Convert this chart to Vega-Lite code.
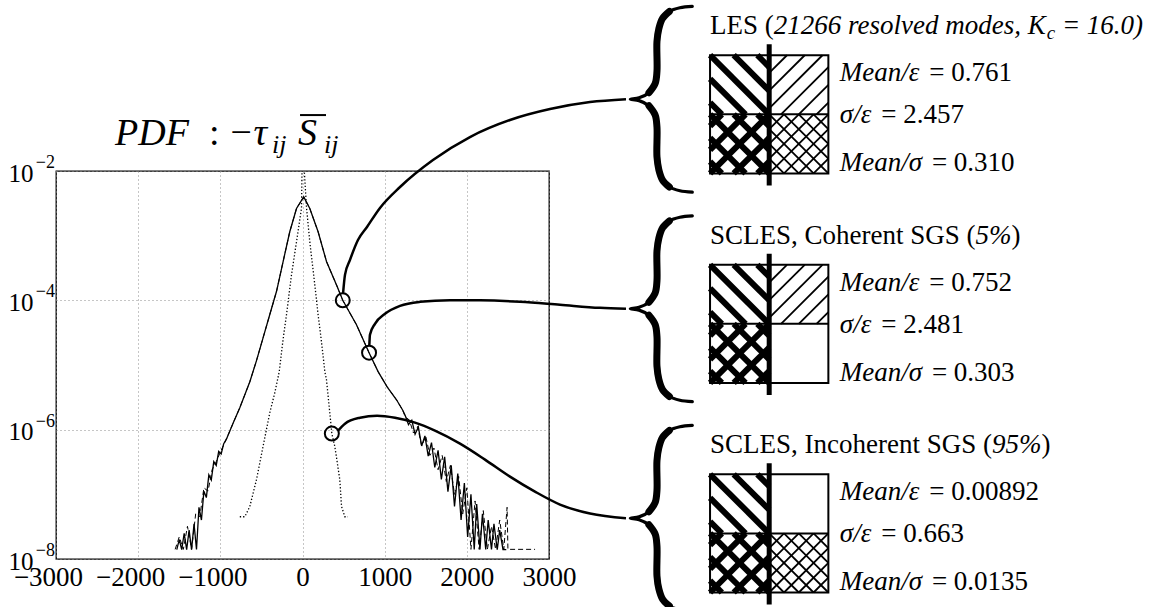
{
"$schema": "https://vega.github.io/schema/vega-lite/v6.json",
"width": 493,
"height": 388,
"autosize": {"type": "none"},
"padding": {"left": 56, "top": 171, "right": 613, "bottom": 48},
"background": "white",
"config": {"view": {"stroke": "black", "strokeWidth": 1.3}},
"resolve": {"scale": {"y": "independent"}, "axis": {"x": "independent"}},
"datasets": {
"pdf": [
{"series":"LES","x":-1530,"pdf":1.4e-8},{"series":"LES","x":-1500,"pdf":2.0e-8},{"series":"LES","x":-1470,"pdf":1.4e-8},{"series":"LES","x":-1440,"pdf":2.5e-8},{"series":"LES","x":-1410,"pdf":1.4e-8},{"series":"LES","x":-1380,"pdf":2.8e-8},{"series":"LES","x":-1350,"pdf":1.4e-8},{"series":"LES","x":-1320,"pdf":3.5e-8},{"series":"LES","x":-1290,"pdf":1.4e-8},{"series":"LES","x":-1260,"pdf":6.3e-8},{"series":"LES","x":-1230,"pdf":4.0e-8},{"series":"LES","x":-1200,"pdf":1.12e-7},{"series":"LES","x":-1170,"pdf":8.9e-8},{"series":"LES","x":-1140,"pdf":2.0e-7},{"series":"LES","x":-1110,"pdf":1.66e-7},{"series":"LES","x":-1080,"pdf":3.2e-7},{"series":"LES","x":-1050,"pdf":2.8e-7},{"series":"LES","x":-1020,"pdf":4.6e-7},{"series":"LES","x":-990,"pdf":4.2e-7},{"series":"LES","x":-960,"pdf":6.0e-7},
{"series":"LES","x":-925,"pdf":7.2e-7},{"series":"LES","x":-845,"pdf":1.26e-6},{"series":"LES","x":-763,"pdf":2.19e-6},{"series":"LES","x":-641,"pdf":5.5e-6},{"series":"LES","x":-560,"pdf":1.17e-5},{"series":"LES","x":-480,"pdf":2.63e-5},{"series":"LES","x":-398,"pdf":6.03e-5},{"series":"LES","x":-316,"pdf":1.38e-4},{"series":"LES","x":-236,"pdf":3.98e-4},{"series":"LES","x":-155,"pdf":1.15e-3},{"series":"LES","x":-73,"pdf":2.63e-3},{"series":"LES","x":15,"pdf":3.98e-3},{"series":"LES","x":89,"pdf":2.63e-3},{"series":"LES","x":190,"pdf":1.15e-3},{"series":"LES","x":292,"pdf":3.98e-4},{"series":"LES","x":414,"pdf":1.73e-4},{"series":"LES","x":490,"pdf":1.0e-4},{"series":"LES","x":657,"pdf":4.19e-5},{"series":"LES","x":810,"pdf":1.55e-5},{"series":"LES","x":920,"pdf":7.9e-6},{"series":"LES","x":1030,"pdf":4.6e-6},{"series":"LES","x":1144,"pdf":2.9e-6},{"series":"LES","x":1220,"pdf":2.0e-6},
{"series":"LES","x":1250,"pdf":1.66e-6},{"series":"LES","x":1290,"pdf":1.2e-6},{"series":"LES","x":1330,"pdf":1.4e-6},{"series":"LES","x":1370,"pdf":8.5e-7},{"series":"LES","x":1410,"pdf":1.1e-6},{"series":"LES","x":1450,"pdf":5.6e-7},{"series":"LES","x":1490,"pdf":8.0e-7},{"series":"LES","x":1530,"pdf":3.9e-7},{"series":"LES","x":1570,"pdf":6.3e-7},{"series":"LES","x":1610,"pdf":2.6e-7},{"series":"LES","x":1650,"pdf":4.8e-7},{"series":"LES","x":1690,"pdf":1.7e-7},{"series":"LES","x":1730,"pdf":3.8e-7},{"series":"LES","x":1770,"pdf":1.1e-7},{"series":"LES","x":1810,"pdf":2.8e-7},{"series":"LES","x":1850,"pdf":6.5e-8},{"series":"LES","x":1890,"pdf":2.1e-7},{"series":"LES","x":1930,"pdf":4.0e-8},{"series":"LES","x":1970,"pdf":1.5e-7},{"series":"LES","x":2010,"pdf":2.2e-8},{"series":"LES","x":2050,"pdf":1.0e-7},{"series":"LES","x":2090,"pdf":1.4e-8},{"series":"LES","x":2120,"pdf":7.1e-8},{"series":"LES","x":2160,"pdf":1.4e-8},{"series":"LES","x":2190,"pdf":5.0e-8},{"series":"LES","x":2230,"pdf":1.4e-8},{"series":"LES","x":2260,"pdf":4.0e-8},{"series":"LES","x":2300,"pdf":1.4e-8},{"series":"LES","x":2330,"pdf":3.5e-8},{"series":"LES","x":2370,"pdf":1.4e-8},{"series":"LES","x":2400,"pdf":2.8e-8},{"series":"LES","x":2440,"pdf":1.4e-8},{"series":"LES","x":2480,"pdf":1.4e-8},
{"series":"Coherent SGS","x":-1550,"pdf":1.41e-8},{"series":"Coherent SGS","x":-1500,"pdf":2.2e-8},{"series":"Coherent SGS","x":-1450,"pdf":1.41e-8},{"series":"Coherent SGS","x":-1400,"pdf":3.2e-8},{"series":"Coherent SGS","x":-1350,"pdf":1.41e-8},{"series":"Coherent SGS","x":-1300,"pdf":5.0e-8},{"series":"Coherent SGS","x":-1250,"pdf":4.5e-8},{"series":"Coherent SGS","x":-1200,"pdf":1.26e-7},{"series":"Coherent SGS","x":-1150,"pdf":1.12e-7},{"series":"Coherent SGS","x":-1100,"pdf":2.4e-7},{"series":"Coherent SGS","x":-1050,"pdf":3.2e-7},{"series":"Coherent SGS","x":-1000,"pdf":4.5e-7},
{"series":"Coherent SGS","x":-925,"pdf":7.2e-7},{"series":"Coherent SGS","x":-845,"pdf":1.26e-6},{"series":"Coherent SGS","x":-763,"pdf":2.19e-6},{"series":"Coherent SGS","x":-641,"pdf":5.5e-6},{"series":"Coherent SGS","x":-560,"pdf":1.17e-5},{"series":"Coherent SGS","x":-480,"pdf":2.63e-5},{"series":"Coherent SGS","x":-398,"pdf":6.03e-5},{"series":"Coherent SGS","x":-316,"pdf":1.38e-4},{"series":"Coherent SGS","x":-236,"pdf":3.98e-4},{"series":"Coherent SGS","x":-155,"pdf":1.15e-3},{"series":"Coherent SGS","x":-73,"pdf":2.63e-3},{"series":"Coherent SGS","x":15,"pdf":3.98e-3},{"series":"Coherent SGS","x":89,"pdf":2.63e-3},{"series":"Coherent SGS","x":190,"pdf":1.15e-3},{"series":"Coherent SGS","x":292,"pdf":3.98e-4},{"series":"Coherent SGS","x":414,"pdf":1.73e-4},{"series":"Coherent SGS","x":490,"pdf":1.0e-4},{"series":"Coherent SGS","x":657,"pdf":4.19e-5},{"series":"Coherent SGS","x":810,"pdf":1.55e-5},{"series":"Coherent SGS","x":920,"pdf":7.9e-6},{"series":"Coherent SGS","x":1030,"pdf":4.6e-6},{"series":"Coherent SGS","x":1144,"pdf":2.9e-6},{"series":"Coherent SGS","x":1220,"pdf":2.0e-6},
{"series":"Coherent SGS","x":1250,"pdf":1.58e-6},{"series":"Coherent SGS","x":1300,"pdf":1.41e-6},{"series":"Coherent SGS","x":1350,"pdf":8.9e-7},{"series":"Coherent SGS","x":1400,"pdf":1.12e-6},{"series":"Coherent SGS","x":1450,"pdf":5.6e-7},{"series":"Coherent SGS","x":1500,"pdf":7.9e-7},{"series":"Coherent SGS","x":1550,"pdf":4.0e-7},{"series":"Coherent SGS","x":1600,"pdf":5.2e-7},{"series":"Coherent SGS","x":1650,"pdf":2.4e-7},{"series":"Coherent SGS","x":1700,"pdf":4.0e-7},{"series":"Coherent SGS","x":1750,"pdf":1.58e-7},{"series":"Coherent SGS","x":1800,"pdf":2.8e-7},{"series":"Coherent SGS","x":1850,"pdf":1.0e-7},{"series":"Coherent SGS","x":1900,"pdf":1.9e-7},{"series":"Coherent SGS","x":1950,"pdf":5.0e-8},{"series":"Coherent SGS","x":2000,"pdf":1.26e-7},{"series":"Coherent SGS","x":2050,"pdf":1.41e-8},{"series":"Coherent SGS","x":2100,"pdf":7.9e-8},{"series":"Coherent SGS","x":2150,"pdf":1.41e-8},{"series":"Coherent SGS","x":2200,"pdf":5.6e-8},{"series":"Coherent SGS","x":2250,"pdf":1.41e-8},{"series":"Coherent SGS","x":2300,"pdf":3.2e-8},{"series":"Coherent SGS","x":2350,"pdf":1.41e-8},{"series":"Coherent SGS","x":2400,"pdf":4.0e-8},{"series":"Coherent SGS","x":2450,"pdf":1.41e-8},{"series":"Coherent SGS","x":2490,"pdf":6.3e-8},{"series":"Coherent SGS","x":2500,"pdf":1.41e-8},{"series":"Coherent SGS","x":2830,"pdf":1.41e-8},
{"series":"Incoherent SGS","x":-763,"pdf":4.5e-8},{"series":"Incoherent SGS","x":-702,"pdf":4.5e-8},{"series":"Incoherent SGS","x":-641,"pdf":6.5e-8},{"series":"Incoherent SGS","x":-560,"pdf":1.69e-7},{"series":"Incoherent SGS","x":-480,"pdf":5.5e-7},{"series":"Incoherent SGS","x":-398,"pdf":1.83e-6},{"series":"Incoherent SGS","x":-337,"pdf":3.72e-6},{"series":"Incoherent SGS","x":-283,"pdf":7.9e-6},{"series":"Incoherent SGS","x":-240,"pdf":2.29e-5},{"series":"Incoherent SGS","x":-195,"pdf":5.97e-5},{"series":"Incoherent SGS","x":-134,"pdf":2.48e-4},{"series":"Incoherent SGS","x":-73,"pdf":8.0e-4},{"series":"Incoherent SGS","x":-12,"pdf":2.68e-3},{"series":"Incoherent SGS","x":-6,"pdf":1.0e-2},{"series":"Incoherent SGS","x":6,"pdf":2.2e-2},{"series":"Incoherent SGS","x":22,"pdf":1.0e-2},{"series":"Incoherent SGS","x":49,"pdf":2.68e-3},{"series":"Incoherent SGS","x":89,"pdf":8.0e-4},{"series":"Incoherent SGS","x":150,"pdf":1.73e-4},{"series":"Incoherent SGS","x":190,"pdf":5.97e-5},{"series":"Incoherent SGS","x":231,"pdf":2.29e-5},{"series":"Incoherent SGS","x":272,"pdf":7.9e-6},{"series":"Incoherent SGS","x":292,"pdf":5.9e-6},{"series":"Incoherent SGS","x":332,"pdf":1.83e-6},{"series":"Incoherent SGS","x":357,"pdf":8.7e-7},{"series":"Incoherent SGS","x":393,"pdf":5.5e-7},{"series":"Incoherent SGS","x":424,"pdf":3.05e-7},{"series":"Incoherent SGS","x":454,"pdf":1.69e-7},{"series":"Incoherent SGS","x":475,"pdf":6.5e-8},{"series":"Incoherent SGS","x":515,"pdf":4.5e-8},{"series":"Incoherent SGS","x":552,"pdf":4.5e-8}
],
"circles": [{"x":490,"pdf":1.0e-4},{"x":810,"pdf":1.55e-5},{"x":357,"pdf":8.7e-7}],
"decades": [{"pdf":1e-2,"exp":"−2"},{"pdf":1e-4,"exp":"−4"},{"pdf":1e-6,"exp":"−6"},{"pdf":1e-8,"exp":"−8"}],
"links": [
{"link":1,"x":493,"d":-3.9},{"link":1,"x":517,"d":-3.606},{"link":1,"x":578,"d":-3.375},{"link":1,"x":675,"d":-3.066},{"link":1,"x":785,"d":-2.865},{"link":1,"x":943,"d":-2.571},{"link":1,"x":1187,"d":-2.247},{"link":1,"x":1588,"d":-1.83},{"link":1,"x":2038,"d":-1.475},{"link":1,"x":2525,"d":-1.212},{"link":1,"x":3012,"d":-1.0425},{"link":1,"x":3499,"d":-0.934},{"link":1,"x":3937,"d":-0.89},
{"link":2,"x":813,"d":-4.703},{"link":2,"x":821,"d":-4.533},{"link":2,"x":882,"d":-4.363},{"link":2,"x":1004,"d":-4.208},{"link":2,"x":1187,"d":-4.085},{"link":2,"x":1430,"d":-4.023},{"link":2,"x":1795,"d":-3.997},{"link":2,"x":2160,"d":-4.0},{"link":2,"x":2647,"d":-4.023},{"link":2,"x":3134,"d":-4.069},{"link":2,"x":3620,"d":-4.116},{"link":2,"x":3937,"d":-4.13},
{"link":3,"x":432,"d":-6.015},{"link":3,"x":517,"d":-5.907},{"link":3,"x":700,"d":-5.815},{"link":3,"x":907,"d":-5.784},{"link":3,"x":1126,"d":-5.815},{"link":3,"x":1369,"d":-5.892},{"link":3,"x":1612,"d":-6.015},{"link":3,"x":1917,"d":-6.216},{"link":3,"x":2221,"d":-6.463},{"link":3,"x":2525,"d":-6.726},{"link":3,"x":2829,"d":-6.958},{"link":3,"x":3134,"d":-7.158},{"link":3,"x":3499,"d":-7.297},{"link":3,"x":3937,"d":-7.37}
],
"braces": [
{"block":1,"i":1,"x":4744,"d":0.5465},{"block":1,"i":2,"x":4593,"d":0.525},{"block":1,"i":3,"x":4465,"d":0.4675},{"block":1,"i":4,"x":4382,"d":0.36},{"block":1,"i":5,"x":4337,"d":0.202},{"block":1,"i":6,"x":4314,"d":0.001},{"block":1,"i":7,"x":4314,"d":-0.459},{"block":1,"i":8,"x":4292,"d":-0.646},{"block":1,"i":9,"x":4216,"d":-0.789},{"block":1,"i":10,"x":4096,"d":-0.8685},{"block":1,"i":11,"x":3990,"d":-0.89},{"block":1,"i":12,"x":4096,"d":-0.9115},{"block":1,"i":13,"x":4216,"d":-0.991},{"block":1,"i":14,"x":4292,"d":-1.134},{"block":1,"i":15,"x":4314,"d":-1.321},{"block":1,"i":16,"x":4314,"d":-1.781},{"block":1,"i":17,"x":4337,"d":-1.982},{"block":1,"i":18,"x":4382,"d":-2.14},{"block":1,"i":19,"x":4465,"d":-2.2475},{"block":1,"i":20,"x":4593,"d":-2.305},{"block":1,"i":21,"x":4744,"d":-2.3265},
{"block":2,"i":1,"x":4744,"d":-2.6935},{"block":2,"i":2,"x":4593,"d":-2.715},{"block":2,"i":3,"x":4465,"d":-2.7725},{"block":2,"i":4,"x":4382,"d":-2.88},{"block":2,"i":5,"x":4337,"d":-3.038},{"block":2,"i":6,"x":4314,"d":-3.239},{"block":2,"i":7,"x":4314,"d":-3.699},{"block":2,"i":8,"x":4292,"d":-3.886},{"block":2,"i":9,"x":4216,"d":-4.029},{"block":2,"i":10,"x":4096,"d":-4.1085},{"block":2,"i":11,"x":3990,"d":-4.13},{"block":2,"i":12,"x":4096,"d":-4.1515},{"block":2,"i":13,"x":4216,"d":-4.231},{"block":2,"i":14,"x":4292,"d":-4.374},{"block":2,"i":15,"x":4314,"d":-4.561},{"block":2,"i":16,"x":4314,"d":-5.021},{"block":2,"i":17,"x":4337,"d":-5.222},{"block":2,"i":18,"x":4382,"d":-5.38},{"block":2,"i":19,"x":4465,"d":-5.4875},{"block":2,"i":20,"x":4593,"d":-5.545},{"block":2,"i":21,"x":4744,"d":-5.5665},
{"block":3,"i":1,"x":4744,"d":-5.9335},{"block":3,"i":2,"x":4593,"d":-5.955},{"block":3,"i":3,"x":4465,"d":-6.0125},{"block":3,"i":4,"x":4382,"d":-6.12},{"block":3,"i":5,"x":4337,"d":-6.278},{"block":3,"i":6,"x":4314,"d":-6.479},{"block":3,"i":7,"x":4314,"d":-6.939},{"block":3,"i":8,"x":4292,"d":-7.126},{"block":3,"i":9,"x":4216,"d":-7.269},{"block":3,"i":10,"x":4096,"d":-7.3485},{"block":3,"i":11,"x":3990,"d":-7.37},{"block":3,"i":12,"x":4096,"d":-7.3915},{"block":3,"i":13,"x":4216,"d":-7.471},{"block":3,"i":14,"x":4292,"d":-7.614},{"block":3,"i":15,"x":4314,"d":-7.801},{"block":3,"i":16,"x":4314,"d":-8.261},{"block":3,"i":17,"x":4337,"d":-8.462},{"block":3,"i":18,"x":4382,"d":-8.62},{"block":3,"i":19,"x":4465,"d":-8.7275},{"block":3,"i":20,"x":4593,"d":-8.785},{"block":3,"i":21,"x":4744,"d":-8.8065}
],
"hatchHeavy": [
{"x1":5536,"d1":-0.21,"x2":5680,"d2":-0.3928},{"x1":5248,"d1":-0.21,"x2":5680,"d2":-0.7584},{"x1":4960,"d1":-0.21,"x2":5680,"d2":-1.124},{"x1":4960,"d1":-0.5756,"x2":5392,"d2":-1.124},{"x1":4960,"d1":-0.9412,"x2":5104,"d2":-1.124},
{"x1":5536,"d1":-3.45,"x2":5680,"d2":-3.6328},{"x1":5248,"d1":-3.45,"x2":5680,"d2":-3.9984},{"x1":4960,"d1":-3.45,"x2":5680,"d2":-4.364},{"x1":4960,"d1":-3.8156,"x2":5392,"d2":-4.364},{"x1":4960,"d1":-4.1812,"x2":5104,"d2":-4.364},
{"x1":5536,"d1":-6.69,"x2":5680,"d2":-6.8728},{"x1":5248,"d1":-6.69,"x2":5680,"d2":-7.2384},{"x1":4960,"d1":-6.69,"x2":5680,"d2":-7.604},{"x1":4960,"d1":-7.0556,"x2":5392,"d2":-7.604},{"x1":4960,"d1":-7.4212,"x2":5104,"d2":-7.604},
{"x1":5536,"d1":-1.124,"x2":5680,"d2":-1.3068},{"x1":5248,"d1":-1.124,"x2":5680,"d2":-1.6724},{"x1":4960,"d1":-1.124,"x2":5680,"d2":-2.038},{"x1":4960,"d1":-1.4896,"x2":5392,"d2":-2.038},{"x1":4960,"d1":-1.8552,"x2":5104,"d2":-2.038},
{"x1":4960,"d1":-1.3068,"x2":5104,"d2":-1.124},{"x1":4960,"d1":-1.6724,"x2":5392,"d2":-1.124},{"x1":4960,"d1":-2.038,"x2":5680,"d2":-1.124},{"x1":5248,"d1":-2.038,"x2":5680,"d2":-1.4896},{"x1":5536,"d1":-2.038,"x2":5680,"d2":-1.8552},
{"x1":5536,"d1":-4.364,"x2":5680,"d2":-4.5468},{"x1":5248,"d1":-4.364,"x2":5680,"d2":-4.9124},{"x1":4960,"d1":-4.364,"x2":5680,"d2":-5.278},{"x1":4960,"d1":-4.7296,"x2":5392,"d2":-5.278},{"x1":4960,"d1":-5.0952,"x2":5104,"d2":-5.278},
{"x1":4960,"d1":-4.5468,"x2":5104,"d2":-4.364},{"x1":4960,"d1":-4.9124,"x2":5392,"d2":-4.364},{"x1":4960,"d1":-5.278,"x2":5680,"d2":-4.364},{"x1":5248,"d1":-5.278,"x2":5680,"d2":-4.7296},{"x1":5536,"d1":-5.278,"x2":5680,"d2":-5.0952},
{"x1":5536,"d1":-7.604,"x2":5680,"d2":-7.7868},{"x1":5248,"d1":-7.604,"x2":5680,"d2":-8.1524},{"x1":4960,"d1":-7.604,"x2":5680,"d2":-8.518},{"x1":4960,"d1":-7.9696,"x2":5392,"d2":-8.518},{"x1":4960,"d1":-8.3352,"x2":5104,"d2":-8.518},
{"x1":4960,"d1":-7.7868,"x2":5104,"d2":-7.604},{"x1":4960,"d1":-8.1524,"x2":5392,"d2":-7.604},{"x1":4960,"d1":-8.518,"x2":5680,"d2":-7.604},{"x1":5248,"d1":-8.518,"x2":5680,"d2":-7.9696},{"x1":5536,"d1":-8.518,"x2":5680,"d2":-8.3352}
],
"hatchLight": [
{"x1":5680,"d1":-0.4842,"x2":5896,"d2":-0.21},{"x1":5680,"d1":-0.7584,"x2":6112,"d2":-0.21},{"x1":5680,"d1":-1.0326,"x2":6328,"d2":-0.21},{"x1":5824,"d1":-1.124,"x2":6400,"d2":-0.3928},{"x1":6040,"d1":-1.124,"x2":6400,"d2":-0.667},{"x1":6256,"d1":-1.124,"x2":6400,"d2":-0.9412},
{"x1":5680,"d1":-3.7242,"x2":5896,"d2":-3.45},{"x1":5680,"d1":-3.9984,"x2":6112,"d2":-3.45},{"x1":5680,"d1":-4.2726,"x2":6328,"d2":-3.45},{"x1":5824,"d1":-4.364,"x2":6400,"d2":-3.6328},{"x1":6040,"d1":-4.364,"x2":6400,"d2":-3.907},{"x1":6256,"d1":-4.364,"x2":6400,"d2":-4.1812},
{"x1":6220,"d1":-1.124,"x2":6400,"d2":-1.3525},{"x1":6040,"d1":-1.124,"x2":6400,"d2":-1.581},{"x1":5860,"d1":-1.124,"x2":6400,"d2":-1.8095},{"x1":5680,"d1":-1.124,"x2":6400,"d2":-2.038},{"x1":5680,"d1":-1.3525,"x2":6220,"d2":-2.038},{"x1":5680,"d1":-1.581,"x2":6040,"d2":-2.038},{"x1":5680,"d1":-1.8095,"x2":5860,"d2":-2.038},
{"x1":5680,"d1":-1.3525,"x2":5860,"d2":-1.124},{"x1":5680,"d1":-1.581,"x2":6040,"d2":-1.124},{"x1":5680,"d1":-1.8095,"x2":6220,"d2":-1.124},{"x1":5680,"d1":-2.038,"x2":6400,"d2":-1.124},{"x1":5860,"d1":-2.038,"x2":6400,"d2":-1.3525},{"x1":6040,"d1":-2.038,"x2":6400,"d2":-1.581},{"x1":6220,"d1":-2.038,"x2":6400,"d2":-1.8095},
{"x1":6220,"d1":-7.604,"x2":6400,"d2":-7.8325},{"x1":6040,"d1":-7.604,"x2":6400,"d2":-8.061},{"x1":5860,"d1":-7.604,"x2":6400,"d2":-8.2895},{"x1":5680,"d1":-7.604,"x2":6400,"d2":-8.518},{"x1":5680,"d1":-7.8325,"x2":6220,"d2":-8.518},{"x1":5680,"d1":-8.061,"x2":6040,"d2":-8.518},{"x1":5680,"d1":-8.2895,"x2":5860,"d2":-8.518},
{"x1":5680,"d1":-7.8325,"x2":5860,"d2":-7.604},{"x1":5680,"d1":-8.061,"x2":6040,"d2":-7.604},{"x1":5680,"d1":-8.2895,"x2":6220,"d2":-7.604},{"x1":5680,"d1":-8.518,"x2":6400,"d2":-7.604},{"x1":5860,"d1":-8.518,"x2":6400,"d2":-7.8325},{"x1":6040,"d1":-8.518,"x2":6400,"d2":-8.061},{"x1":6220,"d1":-8.518,"x2":6400,"d2":-8.2895}
],
"boxes": [
{"block":1,"left":4960,"right":6400,"center":5680,"top":-0.21,"bottom":-2.038,"divider":-1.124,"ltop":-0.04,"lbot":-2.223},
{"block":2,"left":4960,"right":6400,"center":5680,"top":-3.45,"bottom":-5.278,"divider":-4.364,"ltop":-3.28,"lbot":-5.463},
{"block":3,"left":4960,"right":6400,"center":5680,"top":-6.69,"bottom":-8.518,"divider":-7.604,"ltop":-6.52,"lbot":-8.703}
],
"labels": [
{"role":"head","x":4960,"d":0.116,"label":"LES ("},
{"role":"headEm","x":5735,"d":0.116,"label":"21266 resolved modes, K"},
{"role":"headSub","x":9057,"d":0.116,"label":"c"},
{"role":"headEm","x":9242,"d":0.116,"label":"= 16.0)"},
{"role":"head","x":4960,"d":-3.124,"label":"SCLES, Coherent SGS ("},
{"role":"headEm","x":8191,"d":-3.124,"label":"5%"},
{"role":"head","x":8629,"d":-3.124,"label":")"},
{"role":"head","x":4960,"d":-6.364,"label":"SCLES, Incoherent SGS ("},
{"role":"headEm","x":8392,"d":-6.364,"label":"95%"},
{"role":"head","x":8994,"d":-6.364,"label":")"},
{"role":"statName","x":6540,"d":-0.61,"label":"Mean/ε"},
{"role":"statValue","x":7628,"d":-0.61,"label":"= 0.761"},
{"role":"statName","x":6540,"d":-1.263,"label":"σ/ε"},
{"role":"statValue","x":7044,"d":-1.263,"label":"= 2.457"},
{"role":"statName","x":6540,"d":-2.0,"label":"Mean/σ"},
{"role":"statValue","x":7660,"d":-2.0,"label":"= 0.310"},
{"role":"statName","x":6540,"d":-3.85,"label":"Mean/ε"},
{"role":"statValue","x":7628,"d":-3.85,"label":"= 0.752"},
{"role":"statName","x":6540,"d":-4.503,"label":"σ/ε"},
{"role":"statValue","x":7044,"d":-4.503,"label":"= 2.481"},
{"role":"statName","x":6540,"d":-5.24,"label":"Mean/σ"},
{"role":"statValue","x":7660,"d":-5.24,"label":"= 0.303"},
{"role":"statName","x":6540,"d":-7.09,"label":"Mean/ε"},
{"role":"statValue","x":7628,"d":-7.09,"label":"= 0.00892"},
{"role":"statName","x":6540,"d":-7.743,"label":"σ/ε"},
{"role":"statValue","x":7044,"d":-7.743,"label":"= 0.663"},
{"role":"statName","x":6540,"d":-8.48,"label":"Mean/σ"},
{"role":"statValue","x":7660,"d":-8.48,"label":"= 0.0135"},
{"role":"mainEm","x":-2282,"d":-1.598,"label":"PDF"},
{"role":"mainRoman","x":-1138,"d":-1.598,"label":":"},
{"role":"mainEm","x":-907,"d":-1.598,"label":"−τ"},
{"role":"mainEm","x":-55,"d":-1.598,"label":"S"},
{"role":"mainSub","x":-371,"d":-1.722,"label":"ij"},
{"role":"mainSub","x":262,"d":-1.722,"label":"ij"}
],
"overline": [{"x1":-30,"x2":286,"d":-1.135}]
},
"layer": [
{
"data": {"name": "pdf"},
"transform": [{"filter": "datum.series === 'LES'"}],
"mark": {"type": "line", "color": "black", "strokeWidth": 1.3, "clip": true},
"encoding": {
"x": {"field": "x", "type": "quantitative", "scale": {"domain": [-3000, 3000]},
"axis": {"values": [-3000,-2000,-1000,0,1000,2000,3000], "format": "d", "title": null, "domain": false, "ticks": false, "tickSize": 0, "grid": true, "gridColor": "#8c8c8c", "gridDash": [1,3], "gridWidth": 1, "labelFont": "Liberation Serif", "labelFontSize": 27, "labelColor": "black", "labelPadding": 5, "labelFlush": false, "labelOverlap": false, "labelBound": false, "labelOffset": {"condition": {"test": "datum.value < 0", "value": -8}, "value": 0}}},
"y": {"field": "pdf", "type": "quantitative", "scale": {"type": "log", "domain": [1e-8, 1e-2]},
"axis": {"values": [1e-8,1e-6,1e-4,1e-2], "labelExpr": "'10'", "title": null, "domain": false, "ticks": false, "tickSize": 0, "grid": true, "gridColor": "#8c8c8c", "gridDash": [1,3], "gridWidth": 1, "labelFont": "Liberation Serif", "labelFontSize": 25, "labelColor": "black", "labelPadding": 23, "labelOffset": 2, "labelFlush": false, "labelOverlap": false, "labelBound": false}}
}
},
{
"data": {"name": "pdf"},
"transform": [{"filter": "datum.series === 'Coherent SGS'"}],
"mark": {"type": "line", "color": "black", "strokeWidth": 1, "strokeDash": [5,3], "clip": true},
"encoding": {
"x": {"field": "x", "type": "quantitative", "scale": {"domain": [-3000, 3000]}, "axis": null},
"y": {"field": "pdf", "type": "quantitative", "scale": {"type": "log", "domain": [1e-8, 1e-2]}, "axis": null}
}
},
{
"data": {"name": "pdf"},
"transform": [{"filter": "datum.series === 'Incoherent SGS'"}],
"mark": {"type": "line", "color": "black", "strokeWidth": 1.3, "strokeDash": [1.3,2], "clip": true},
"encoding": {
"x": {"field": "x", "type": "quantitative", "scale": {"domain": [-3000, 3000]}, "axis": null},
"y": {"field": "pdf", "type": "quantitative", "scale": {"type": "log", "domain": [1e-8, 1e-2]}, "axis": null}
}
},
{
"data": {"name": "circles"},
"mark": {"type": "point", "shape": "circle", "size": 196, "filled": false, "stroke": "black", "strokeWidth": 2, "opacity": 1},
"encoding": {
"x": {"field": "x", "type": "quantitative", "scale": {"domain": [-3000, 3000]}, "axis": null},
"y": {"field": "pdf", "type": "quantitative", "scale": {"type": "log", "domain": [1e-8, 1e-2]}, "axis": null}
}
},
{
"data": {"name": "decades"},
"mark": {"type": "text", "font": "Liberation Serif", "fontSize": 18, "align": "right", "baseline": "middle", "dx": -1, "dy": -8, "color": "black"},
"encoding": {
"x": {"datum": -3000, "type": "quantitative", "scale": {"domain": [-3000, 3000]}, "axis": null},
"y": {"field": "pdf", "type": "quantitative", "scale": {"type": "log", "domain": [1e-8, 1e-2]}, "axis": null},
"text": {"field": "exp"}
}
},
{
"data": {"name": "links"},
"mark": {"type": "line", "color": "black", "strokeWidth": 2.5, "interpolate": "monotone"},
"encoding": {
"x": {"field": "x", "type": "quantitative", "scale": {"domain": [-3000, 3000]}, "axis": null},
"y": {"field": "d", "type": "quantitative", "scale": {"domain": [-8, -2]}, "axis": null},
"detail": {"field": "link"}
}
},
{
"data": {"name": "braces"},
"mark": {"type": "line", "color": "black", "strokeWidth": 3.2, "interpolate": "catmull-rom", "strokeCap": "round"},
"encoding": {
"x": {"field": "x", "type": "quantitative", "scale": {"domain": [-3000, 3000]}, "axis": null},
"y": {"field": "d", "type": "quantitative", "scale": {"domain": [-8, -2]}, "axis": null},
"detail": {"field": "block"},
"order": {"field": "i"}
}
},
{
"data": {"name": "braces"},
"transform": [{"filter": "datum.i >= 3 && datum.i <= 9"}],
"mark": {"type": "line", "color": "black", "strokeWidth": 7, "interpolate": "catmull-rom", "strokeCap": "round"},
"encoding": {
"x": {"field": "x", "type": "quantitative", "scale": {"domain": [-3000, 3000]}, "axis": null},
"y": {"field": "d", "type": "quantitative", "scale": {"domain": [-8, -2]}, "axis": null},
"detail": {"field": "block"},
"order": {"field": "i"}
}
},
{
"data": {"name": "braces"},
"transform": [{"filter": "datum.i >= 13 && datum.i <= 19"}],
"mark": {"type": "line", "color": "black", "strokeWidth": 7, "interpolate": "catmull-rom", "strokeCap": "round"},
"encoding": {
"x": {"field": "x", "type": "quantitative", "scale": {"domain": [-3000, 3000]}, "axis": null},
"y": {"field": "d", "type": "quantitative", "scale": {"domain": [-8, -2]}, "axis": null},
"detail": {"field": "block"},
"order": {"field": "i"}
}
},
{
"data": {"name": "hatchHeavy"},
"mark": {"type": "rule", "color": "black", "strokeWidth": 6},
"encoding": {
"x": {"field": "x1", "type": "quantitative", "scale": {"domain": [-3000, 3000]}, "axis": null},
"x2": {"field": "x2"},
"y": {"field": "d1", "type": "quantitative", "scale": {"domain": [-8, -2]}, "axis": null},
"y2": {"field": "d2"}
}
},
{
"data": {"name": "hatchLight"},
"mark": {"type": "rule", "color": "black", "strokeWidth": 1.8},
"encoding": {
"x": {"field": "x1", "type": "quantitative", "scale": {"domain": [-3000, 3000]}, "axis": null},
"x2": {"field": "x2"},
"y": {"field": "d1", "type": "quantitative", "scale": {"domain": [-8, -2]}, "axis": null},
"y2": {"field": "d2"}
}
},
{
"data": {"name": "boxes"},
"mark": {"type": "rect", "filled": false, "stroke": "black", "strokeWidth": 2},
"encoding": {
"x": {"field": "left", "type": "quantitative", "scale": {"domain": [-3000, 3000]}, "axis": null},
"x2": {"field": "right"},
"y": {"field": "top", "type": "quantitative", "scale": {"domain": [-8, -2]}, "axis": null},
"y2": {"field": "bottom"}
}
},
{
"data": {"name": "boxes"},
"mark": {"type": "rule", "color": "black", "strokeWidth": 2},
"encoding": {
"x": {"field": "left", "type": "quantitative", "scale": {"domain": [-3000, 3000]}, "axis": null},
"x2": {"field": "right"},
"y": {"field": "divider", "type": "quantitative", "scale": {"domain": [-8, -2]}, "axis": null}
}
},
{
"data": {"name": "boxes"},
"mark": {"type": "rule", "color": "black", "strokeWidth": 5},
"encoding": {
"x": {"field": "center", "type": "quantitative", "scale": {"domain": [-3000, 3000]}, "axis": null},
"y": {"field": "ltop", "type": "quantitative", "scale": {"domain": [-8, -2]}, "axis": null},
"y2": {"field": "lbot"}
}
},
{
"data": {"name": "labels"},
"transform": [{"filter": "datum.role === 'head'"}],
"mark": {"type": "text", "font": "Liberation Serif", "fontSize": 27, "align": "left", "baseline": "alphabetic", "color": "black"},
"encoding": {
"x": {"field": "x", "type": "quantitative", "scale": {"domain": [-3000, 3000]}, "axis": null},
"y": {"field": "d", "type": "quantitative", "scale": {"domain": [-8, -2]}, "axis": null},
"text": {"field": "label"}
}
},
{
"data": {"name": "labels"},
"transform": [{"filter": "datum.role === 'headEm' || datum.role === 'statName'"}],
"mark": {"type": "text", "font": "Liberation Serif", "fontSize": 27, "fontStyle": "italic", "align": "left", "baseline": "alphabetic", "color": "black"},
"encoding": {
"x": {"field": "x", "type": "quantitative", "scale": {"domain": [-3000, 3000]}, "axis": null},
"y": {"field": "d", "type": "quantitative", "scale": {"domain": [-8, -2]}, "axis": null},
"text": {"field": "label"}
}
},
{
"data": {"name": "labels"},
"transform": [{"filter": "datum.role === 'headSub'"}],
"mark": {"type": "text", "font": "Liberation Serif", "fontSize": 19, "fontStyle": "italic", "align": "left", "baseline": "alphabetic", "dy": 5, "color": "black"},
"encoding": {
"x": {"field": "x", "type": "quantitative", "scale": {"domain": [-3000, 3000]}, "axis": null},
"y": {"field": "d", "type": "quantitative", "scale": {"domain": [-8, -2]}, "axis": null},
"text": {"field": "label"}
}
},
{
"data": {"name": "labels"},
"transform": [{"filter": "datum.role === 'statValue'"}],
"mark": {"type": "text", "font": "Liberation Serif", "fontSize": 27, "align": "left", "baseline": "alphabetic", "color": "black"},
"encoding": {
"x": {"field": "x", "type": "quantitative", "scale": {"domain": [-3000, 3000]}, "axis": null},
"y": {"field": "d", "type": "quantitative", "scale": {"domain": [-8, -2]}, "axis": null},
"text": {"field": "label"}
}
},
{
"data": {"name": "labels"},
"transform": [{"filter": "datum.role === 'mainEm'"}],
"mark": {"type": "text", "font": "Liberation Serif", "fontSize": 38, "fontStyle": "italic", "align": "left", "baseline": "alphabetic", "color": "black"},
"encoding": {
"x": {"field": "x", "type": "quantitative", "scale": {"domain": [-3000, 3000]}, "axis": null},
"y": {"field": "d", "type": "quantitative", "scale": {"domain": [-8, -2]}, "axis": null},
"text": {"field": "label"}
}
},
{
"data": {"name": "labels"},
"transform": [{"filter": "datum.role === 'mainRoman'"}],
"mark": {"type": "text", "font": "Liberation Serif", "fontSize": 38, "align": "left", "baseline": "alphabetic", "color": "black"},
"encoding": {
"x": {"field": "x", "type": "quantitative", "scale": {"domain": [-3000, 3000]}, "axis": null},
"y": {"field": "d", "type": "quantitative", "scale": {"domain": [-8, -2]}, "axis": null},
"text": {"field": "label"}
}
},
{
"data": {"name": "labels"},
"transform": [{"filter": "datum.role === 'mainSub'"}],
"mark": {"type": "text", "font": "Liberation Serif", "fontSize": 26, "fontStyle": "italic", "align": "left", "baseline": "alphabetic", "color": "black"},
"encoding": {
"x": {"field": "x", "type": "quantitative", "scale": {"domain": [-3000, 3000]}, "axis": null},
"y": {"field": "d", "type": "quantitative", "scale": {"domain": [-8, -2]}, "axis": null},
"text": {"field": "label"}
}
},
{
"data": {"name": "overline"},
"mark": {"type": "rule", "color": "black", "strokeWidth": 2},
"encoding": {
"x": {"field": "x1", "type": "quantitative", "scale": {"domain": [-3000, 3000]}, "axis": null},
"x2": {"field": "x2"},
"y": {"field": "d", "type": "quantitative", "scale": {"domain": [-8, -2]}, "axis": null}
}
}
]
}
